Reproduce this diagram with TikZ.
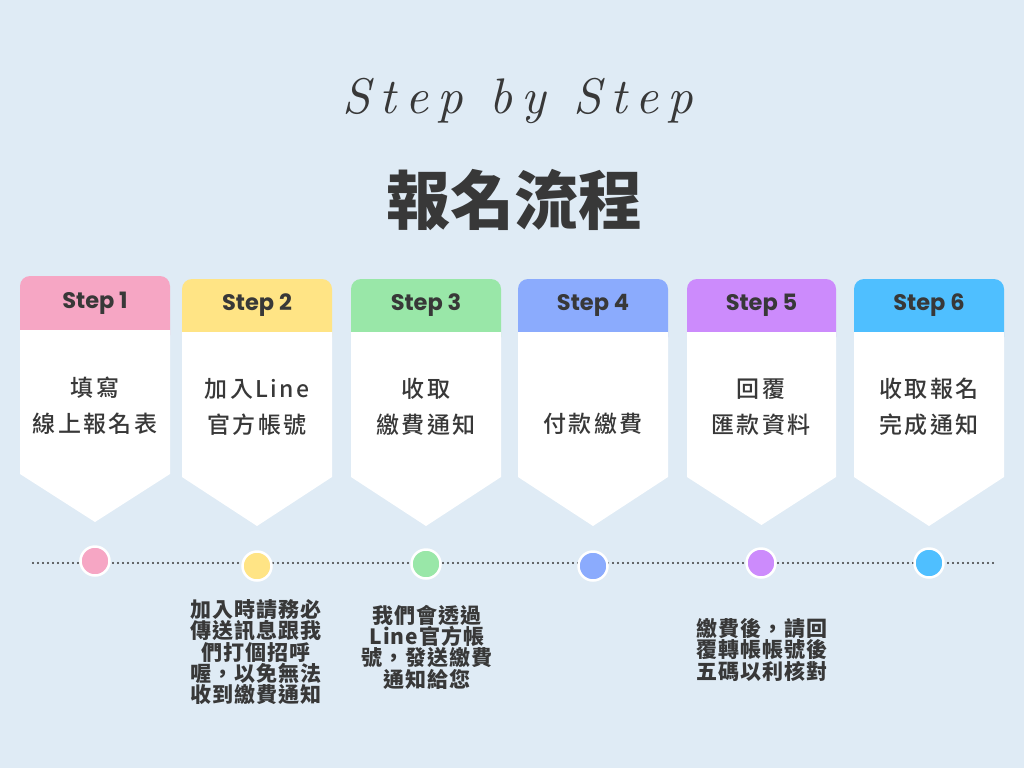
\documentclass[tikz,border=0pt]{standalone}
\usepackage{fontspec}
\newfontfamily\cjk{Noto Sans CJK TC}
\newfontfamily\cjkblack{Noto Sans CJK TC Black}
\newfontfamily\cjkbody{Noto Sans CJK TC Medium}[LetterSpace=10]
\newfontfamily\notefont{Noto Sans CJK TC}[LetterSpace=5]
\newfontfamily\stepfont{Poppins}
\newfontfamily\handfont{lmroman10-italic}[Extension=.otf, LetterSpace=18]
\definecolor{bg}{HTML}{DFEBF5}
\definecolor{ink}{HTML}{383838}
\definecolor{c1}{HTML}{F6A6C4}
\definecolor{c2}{HTML}{FFE485}
\definecolor{c3}{HTML}{99E7A8}
\definecolor{c4}{HTML}{8BABFD}
\definecolor{c5}{HTML}{CC8BFC}
\definecolor{c6}{HTML}{4FBFFF}
\tikzset{
  steplabel/.style={text=ink, font=\stepfont\bfseries\fontsize{22.5}{24}\selectfont, inner sep=0},
  bodytext/.style={text=ink, align=center, font=\cjkbody\fontsize{23}{36}\selectfont, inner sep=0},
  notetext/.style={text=ink, align=center, inner sep=0},
  dot/.style={circle, draw=white, line width=2.5pt, minimum size=29pt, inner sep=0},
  timeline/.style={draw=ink, line width=2.2pt, line cap=round, dash pattern=on 0pt off 5pt}
}
\begin{document}
\begin{tikzpicture}[x=1pt,y=-1pt]
\useasboundingbox (0,0) rectangle (1024,768);
\fill[bg] (0,0) rectangle (1024,768);
% titles
\node[text=ink, anchor=base, inner sep=0] (script) at (518,113)
  {\handfont\fontsize{50}{50}\selectfont Step by Step};
\node[text=ink, inner sep=0] (title) at (514,200)
  {\cjkblack\fontsize{64}{64}\selectfont 報名流程};
% step boxes
\foreach \L/\R/\T/\H/\S/\Y/\c/\n in {20/170/276/330/474/522/c1/1, 182/332/279/332/477/526/c2/2, 351/501/279/332/477/526/c3/3, 518/668/279/332/477/526/c4/4, 687/836/279/332/477/525/c5/5, 854/1004/279/332/477/526/c6/6}{
  \pgfmathsetmacro\M{(\L+\R)/2}
  \fill[\c, rounded corners=10pt] (\L,\T) rectangle (\R,{\H+15});
  \fill[white] (\L,\H) -- (\R,\H) -- (\R,\S) -- (\M,\Y) -- (\L,\S) -- cycle;
  \node[steplabel] (s\n) at (\M,{(\T+\H)/2}) {Step \n};
}
% body texts
\node[bodytext] (b1) at (95,406) {填寫\\線上報名表};
\node[bodytext] (b2) at (257,407) {加入Line\\官方帳號};
\node[bodytext] (b3) at (426,407) {收取\\繳費通知};
\node[bodytext] (b4) at (593,424) {付款繳費};
\node[bodytext] (b5) at (761,407) {回覆\\匯款資料};
\node[bodytext] (b6) at (929,407) {收取報名\\完成通知};
% timeline
\coordinate (tl0) at (33,563);
\coordinate (tl1) at (995,563);
\draw[timeline] (tl0) -- (tl1);
\node[dot, fill=c1] (d1) at (95,561) {};
\node[dot, fill=c2] (d2) at (257,566) {};
\node[dot, fill=c3] (d3) at (426,564) {};
\node[dot, fill=c4] (d4) at (593,566) {};
\node[dot, fill=c5] (d5) at (761,563) {};
\node[dot, fill=c6] (d6) at (929,563) {};
% notes
\node[notetext, font=\notefont\bfseries\fontsize{21}{20}\selectfont] (n2) at (256,652)
  {加入時請務必\\傳送訊息跟我\\們打個招呼\\喔，以免無法\\收到繳費通知};
\node[notetext, font=\notefont\bfseries\fontsize{21}{21.3}\selectfont] (n3) at (427,647)
  {我們會透過\\Line官方帳\\號，發送繳費\\通知給您};
\node[notetext, font=\notefont\bfseries\fontsize{21}{21.5}\selectfont] (n5) at (762,650)
  {繳費後，請回\\覆轉帳帳號後\\五碼以利核對};
\end{tikzpicture}
\end{document}
